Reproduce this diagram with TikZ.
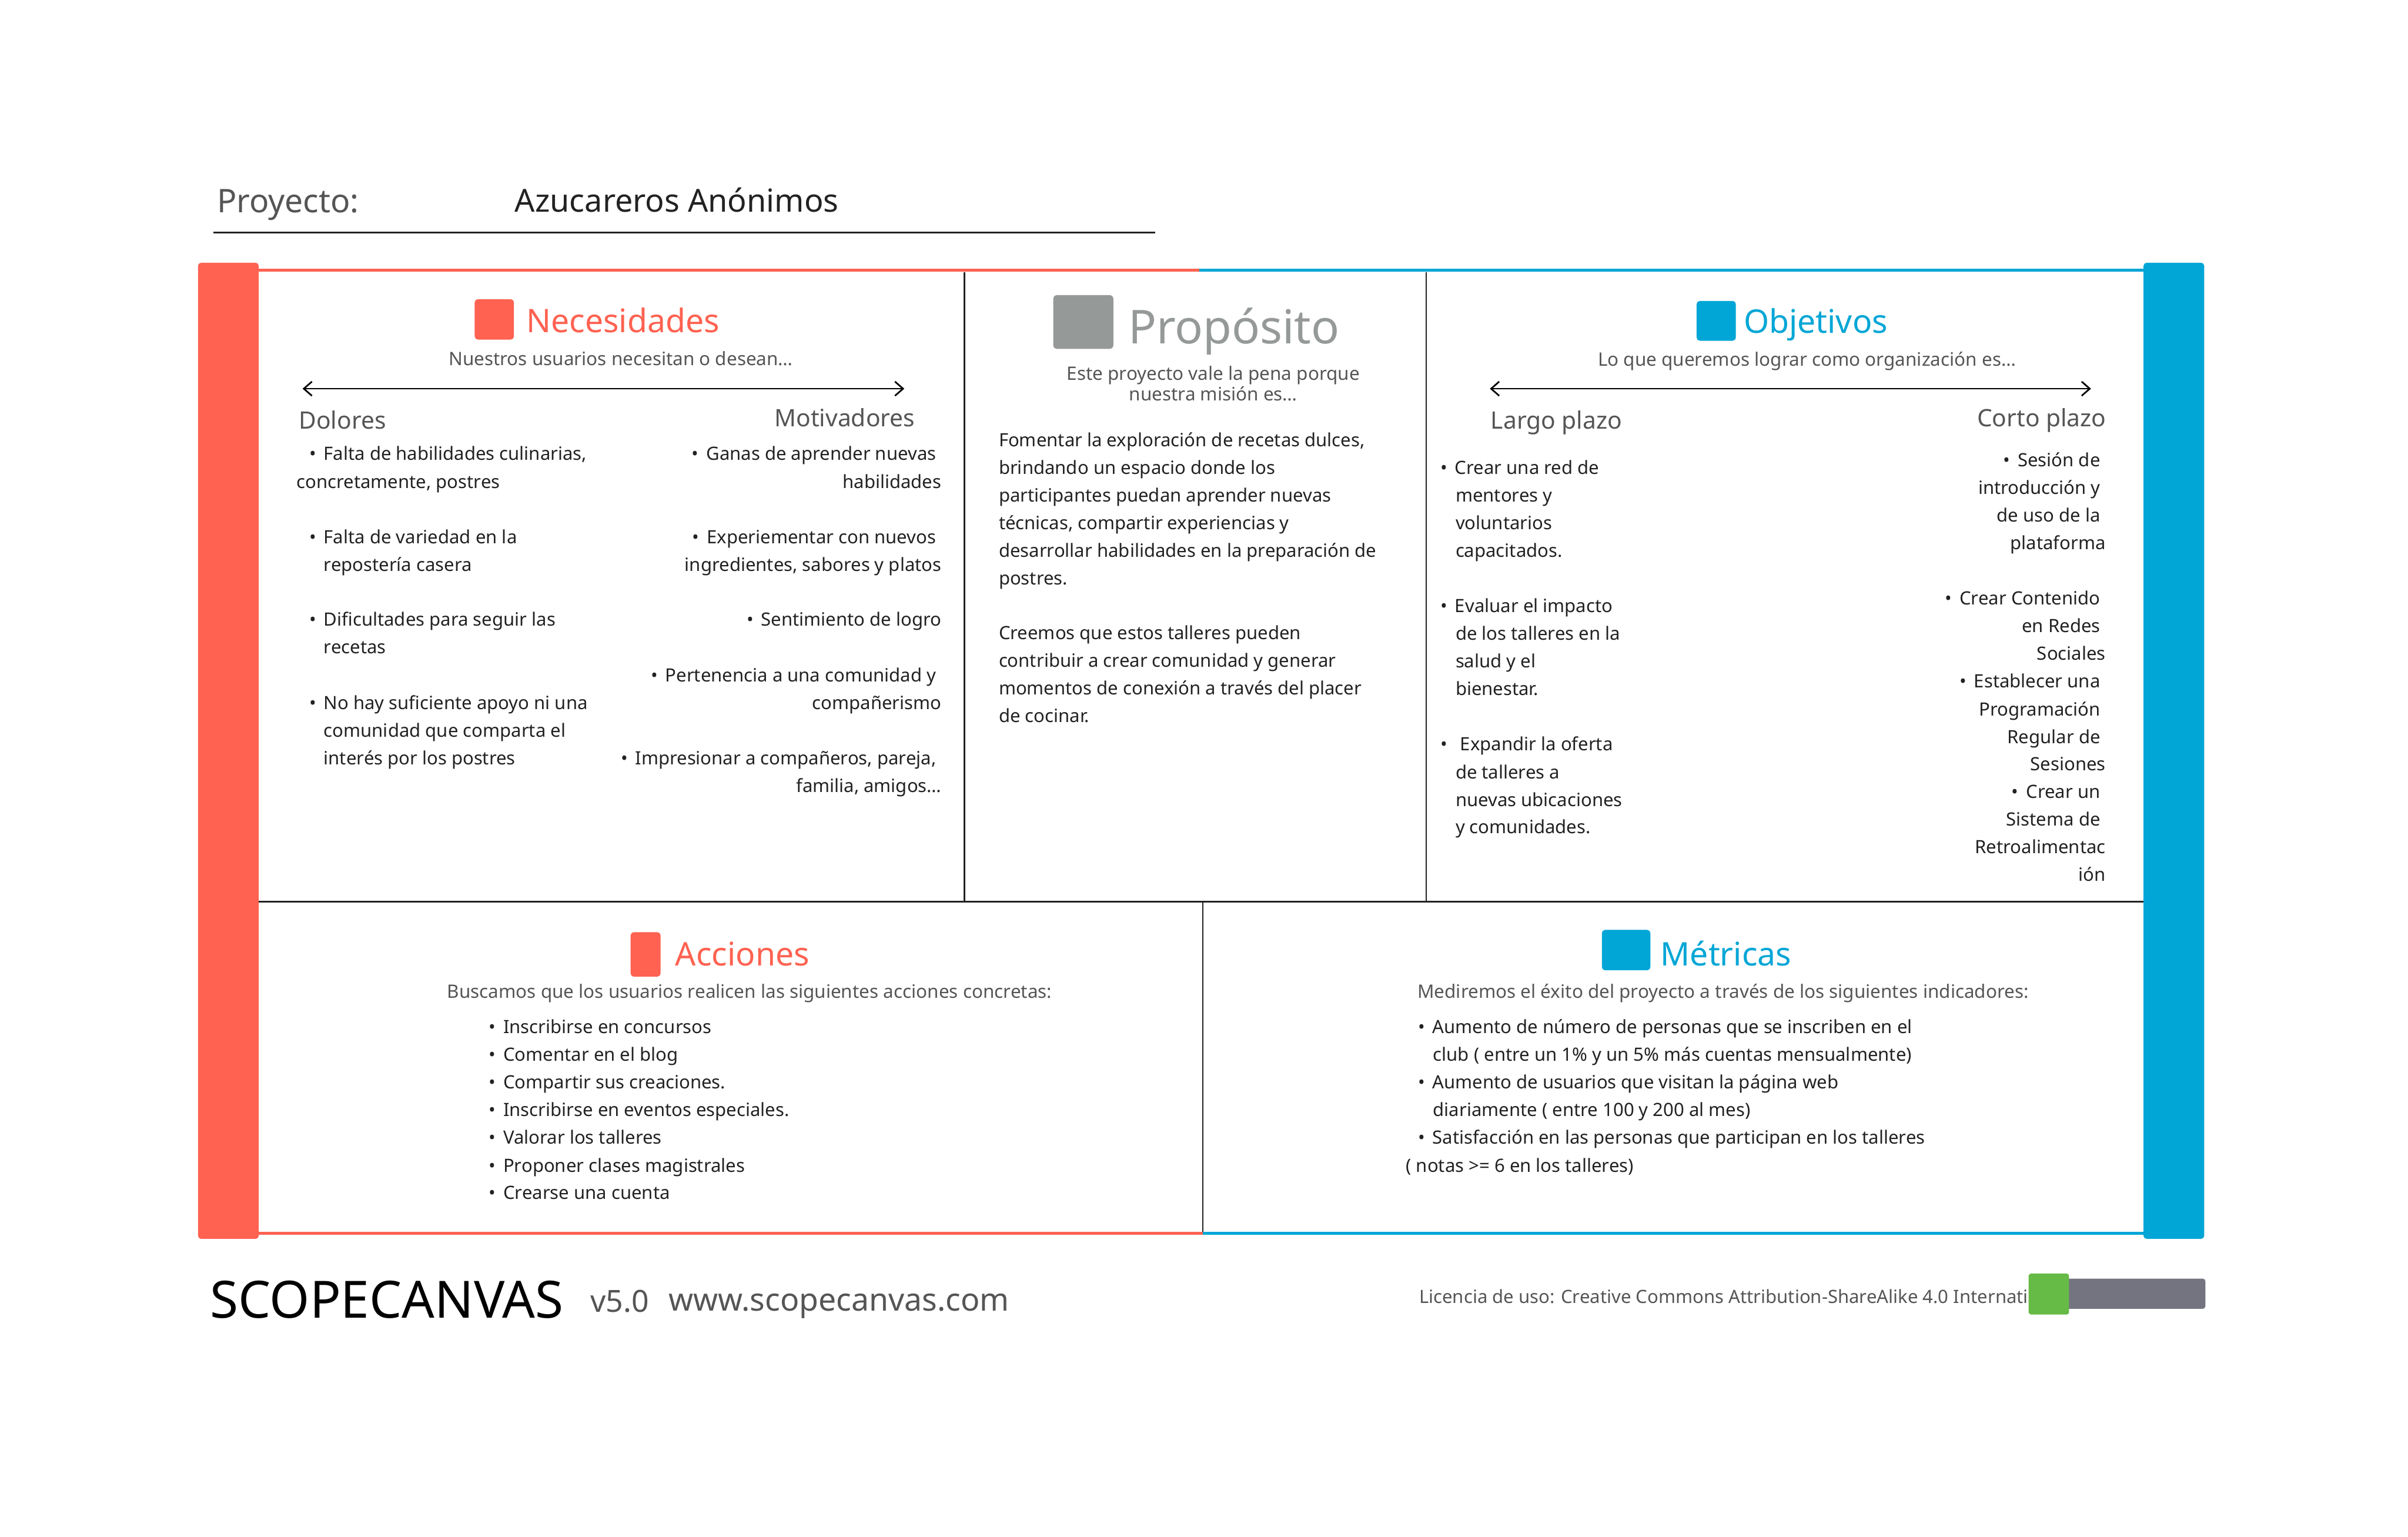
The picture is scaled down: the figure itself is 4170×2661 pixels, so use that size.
\documentclass[tikz,border=0pt]{standalone}
\usepackage{fontspec}
\setmainfont{Noto Sans}
\usepackage{tikz}
\usetikzlibrary{arrows.meta}
\definecolor{needred}{HTML}{FF6251}
\definecolor{goalblue}{HTML}{02A6D6}
\definecolor{purposegray}{HTML}{959A98}
\definecolor{slate}{HTML}{555555}
\definecolor{ink}{HTML}{222222}
\definecolor{licgreen}{HTML}{66BB46}
\definecolor{licbar}{HTML}{737480}

\newcommand{\itm}{\makebox[7.1pt][l]{•}}
\newcommand{\tsp}{\kern2.6pt}

\begin{document}
\begin{tikzpicture}[x=0.01cm, y=-0.01cm, >={Straight Barb[length=4pt, width=7pt]},
    body/.style={font=\fontsize{9}{11}\selectfont, text=ink, inner sep=0pt},
    sub/.style={font=\fontsize{9.1}{11}\selectfont, text=slate, inner sep=0pt},
    colhead/.style={font=\fontsize{11.8}{14}\selectfont, text=slate, inner sep=0pt},
    ttl/.style={font=\fontsize{16}{19}\selectfont, inner sep=0pt, anchor=base west},
    icon/.style={rounded corners=1.6pt},
    axis/.style={<->, line width=0.8pt, black}]
    \useasboundingbox (0,0) rectangle (4170,2661);
    \fill[white] (0,0) rectangle (4170,2661);

    % Header
    \node[font=\fontsize{16}{19}\selectfont, text=slate, inner sep=0pt, anchor=base west] (proj) at (375,368) {Proyecto:};
    \node[font=\fontsize{15.6}{19}\selectfont, text=ink, inner sep=0pt, anchor=base west] (projname) at (891,367) {Azucareros Anónimos};
    \draw[ink, line width=0.9pt] (370,403) -- (2000,403);

    % Side bars and frame
    \fill[needred, rounded corners=1.5pt] (343,455) rectangle (448,2145);
    \fill[goalblue, rounded corners=1.5pt] (3712,455) rectangle (3817,2145);
    \draw[needred, line width=1.4pt] (448,468) -- (2077,468);
    \draw[goalblue, line width=1.4pt] (2077,468) -- (3712,468);
    \draw[needred, line width=1.4pt] (448,2135) -- (2083,2135);
    \draw[goalblue, line width=1.4pt] (2083,2135) -- (3712,2135);
    \draw[ink, line width=0.9pt] (448,1561) -- (3712,1561);
    \draw[ink, line width=0.7pt] (1670,471) -- (1670,1561);
    \draw[ink, line width=0.7pt] (2470,471) -- (2470,1561);
    \draw[ink, line width=0.7pt] (2083,1561) -- (2083,2133);

    % Necesidades
    \fill[needred, icon] (822,518) rectangle (890,588);
    \node[ttl, text=needred] (nec) at (911,576) {Necesidades};
    \node[sub, anchor=base] (necsub) at (1075,633) {Nuestros usuarios necesitan o desean…};
    \coordinate (necL) at (524,673);
    \coordinate (necR) at (1566,673);
    \draw[axis] (necL) -- (necR);
    \node[colhead, anchor=base west] (dol) at (517,743) {Dolores};
    \node[colhead, anchor=base east] (mot) at (1585,739) {Motivadores};
    \foreach \xx/\yy/\txt [count=\i] in {535/797/{\itm Falta de habilidades culinarias,}, 513/845/{concretamente, postres},
        535/941/{\itm Falta de variedad en la}, 560/989/{repostería casera},
        535/1084/{\itm Dificultades para seguir las}, 560/1132/{recetas},
        535/1228/{\itm No hay suficiente apoyo ni una}, 560/1276/{comunidad que comparta el}, 560/1324/{interés por los postres}}
        \node[body, anchor=base west] (dol\i) at (\xx,\yy) {\txt};
    \foreach \yy/\txt [count=\i] in {797/{\itm Ganas de aprender nuevas\tsp}, 845/{habilidades},
        941/{\itm Experiementar con nuevos\tsp}, 989/{ingredientes, sabores y platos},
        1084/{\itm Sentimiento de logro},
        1180/{\itm Pertenencia a una comunidad y\tsp}, 1228/{compañerismo},
        1324/{\itm Impresionar a compañeros, pareja,\tsp}, 1372/{familia, amigos…}}
        \node[body, anchor=base east] (mot\i) at (1631,\yy) {\txt};

    % Proposito
    \fill[purposegray, icon] (1824,511) rectangle (1928,604);
    \node[ttl, font=\fontsize{23}{27}\selectfont, text=purposegray] (prop) at (1953,595) {Propósito};
    \node[sub, font=\fontsize{9.1}{11}\selectfont, anchor=base] (propsub1) at (2101,658) {Este proyecto vale la pena porque};
    \node[sub, font=\fontsize{9.1}{11}\selectfont, anchor=base] (propsub2) at (2101,694) {nuestra misión es…};
    \foreach \yy/\txt [count=\i] in {773/{Fomentar la exploración de recetas dulces,}, 821/{brindando un espacio donde los},
        869/{participantes puedan aprender nuevas}, 917/{técnicas, compartir experiencias y},
        965/{desarrollar habilidades en la preparación de}, 1012/{postres.},
        1107/{Creemos que estos talleres pueden}, 1155/{contribuir a crear comunidad y generar},
        1203/{momentos de conexión a través del placer}, 1251/{de cocinar.}}
        \node[body, anchor=base west] (prop\i) at (1729,\yy) {\txt};

    % Objetivos
    \fill[goalblue, icon] (2938,521) rectangle (3006,590);
    \node[ttl, text=goalblue] (obj) at (3019,577) {Objetivos};
    \node[sub, anchor=base] (objsub) at (3129,634) {Lo que queremos lograr como organización es…};
    \coordinate (objL) at (2580,673);
    \coordinate (objR) at (3621,673);
    \draw[axis] (objL) -- (objR);
    \node[colhead, anchor=base west] (largo) at (2581,743) {Largo plazo};
    \node[colhead, anchor=base east] (corto) at (3648,739) {Corto plazo};
    \foreach \xx/\yy/\txt [count=\i] in {2494/821/{\itm Crear una red de}, 2520/869/{mentores y}, 2520/917/{voluntarios}, 2520/965/{capacitados.},
        2494/1060/{\itm Evaluar el impacto}, 2520/1108/{de los talleres en la}, 2520/1156/{salud y el}, 2520/1204/{bienestar.},
        2494/1300/{\itm\tsp Expandir la oferta}, 2520/1348/{de talleres a}, 2520/1396/{nuevas ubicaciones}, 2520/1443/{y comunidades.}}
        \node[body, anchor=base west] (largo\i) at (\xx,\yy) {\txt};
    \foreach \yy/\txt [count=\i] in {808/{\itm Sesión de\tsp}, 856/{introducción y\tsp}, 904/{de uso de la\tsp}, 951/{plataforma},
        1047/{\itm Crear Contenido\tsp}, 1095/{en Redes\tsp}, 1143/{Sociales},
        1191/{\itm Establecer una\tsp}, 1239/{Programación\tsp}, 1287/{Regular de\tsp}, 1334/{Sesiones},
        1382/{\itm Crear un\tsp}, 1430/{Sistema de\tsp}, 1478/{Retroalimentac}, 1526/{ión}}
        \node[body, anchor=base east] (corto\i) at (3647,\yy) {\txt};

    % Acciones
    \fill[needred, icon] (1092,1614) rectangle (1144,1691);
    \node[ttl, text=needred] (acc) at (1169,1672) {Acciones};
    \node[sub, anchor=base] (accsub) at (1298,1728) {Buscamos que los usuarios realicen las siguientes acciones concretas:};
    \foreach \yy/\txt [count=\i] in {1789/{Inscribirse en concursos}, 1837/{Comentar en el blog}, 1885/{Compartir sus creaciones.},
        1933/{Inscribirse en eventos especiales.}, 1981/{Valorar los talleres}, 2029/{Proponer clases magistrales}, 2076/{Crearse una cuenta}}
        \node[body, anchor=base west] (acc\i) at (846,\yy) {\itm\txt};

    % Metricas
    \fill[goalblue, icon] (2774,1610) rectangle (2858,1680);
    \node[ttl, text=goalblue] (met) at (2875,1672) {Métricas};
    \node[sub, anchor=base] (metsub) at (2984,1728) {Mediremos el éxito del proyecto a través de los siguientes indicadores:};
    \foreach \xx/\yy/\txt [count=\i] in {2455/1789/{\itm Aumento de número de personas que se inscriben en el}, 2481/1837/{club ( entre un 1\% y un 5\% más cuentas mensualmente)},
        2455/1885/{\itm Aumento de usuarios que visitan la página web}, 2481/1933/{diariamente ( entre 100 y 200 al mes)},
        2455/1981/{\itm Satisfacción en las personas que participan en los talleres}, 2434/2029/{( notas >= 6 en los talleres)}}
        \node[body, anchor=base west] (met\i) at (\xx,\yy) {\txt};

    % Footer
    \node[font=\fontsize{25.3}{30}\selectfont, text=black, inner sep=0pt, anchor=base west] (brand) at (363,2282) {SCOPECANVAS};
    \node[font=\fontsize{15}{18}\selectfont, text=slate, inner sep=0pt, anchor=base west] (ver) at (1022,2272) {v5.0};
    \node[font=\fontsize{15.5}{18}\selectfont, text=slate, inner sep=0pt, anchor=base west] (web) at (1157,2270) {www.scopecanvas.com};
    \node[font=\fontsize{9}{11}\selectfont, text=slate, inner sep=0pt, anchor=base east] (lic) at (3513,2257) {Licencia de uso: Creative Commons Attribution-ShareAlike 4.0 Internati};
    \fill[licbar, rounded corners=1.2pt] (3575,2214) rectangle (3819,2266);
    \fill[licgreen, rounded corners=1.2pt] (3513,2205) rectangle (3583,2276);
\end{tikzpicture}
\end{document}
